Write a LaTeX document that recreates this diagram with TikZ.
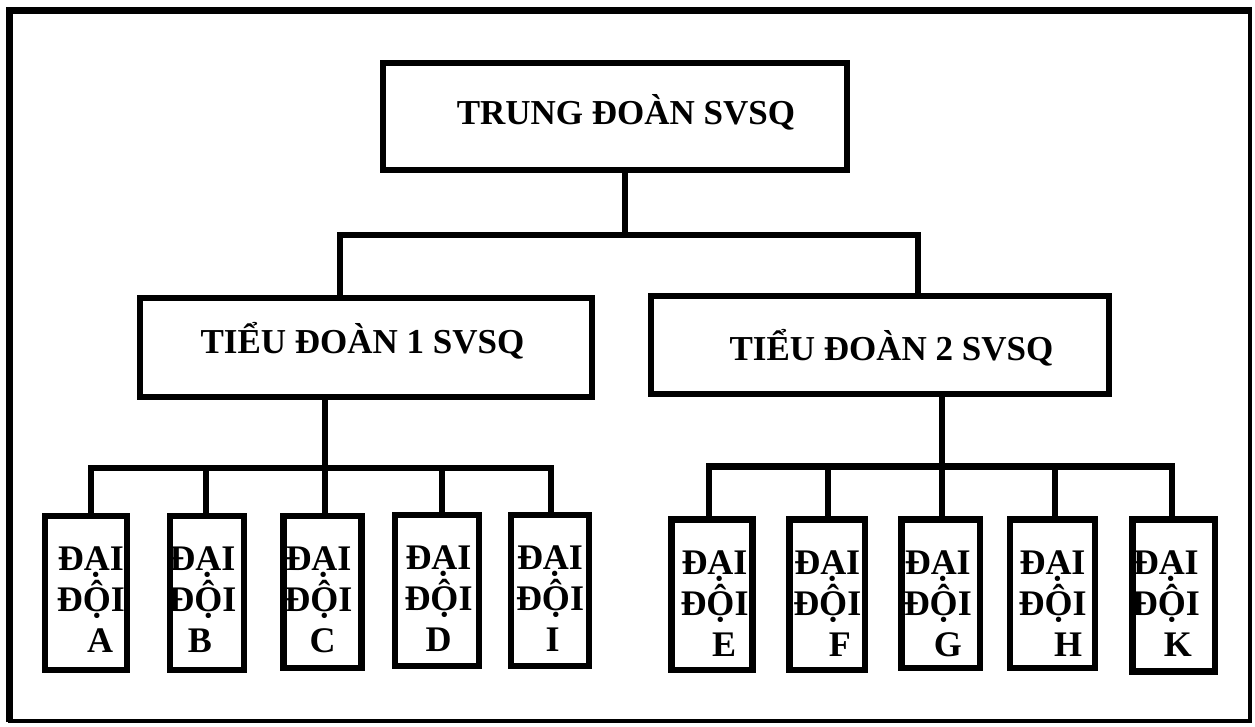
\documentclass[tikz,border=0pt]{standalone}
\usepackage{fontspec}
\setmainfont{Liberation Serif}
\newcommand\ddlabel[2]{ĐẠI\\ĐỘI\\\makebox[0pt]{\hspace*{#1}#2}}
\tikzset{
  box/.style={draw, line width=6.5pt, inner sep=0pt, outer sep=0pt},
  wire/.style={line width=6.5pt, line join=miter},
  title/.style={font=\bfseries\fontsize{35}{40}\selectfont, inner sep=0pt, anchor=base},
  ddtext/.style={font=\bfseries\fontsize{36}{41}\selectfont, inner sep=0pt, align=center, anchor=north},
}
\begin{document}
\begin{tikzpicture}[x=1pt,y=-1pt]
\useasboundingbox (0,0) rectangle (1255,726);

% outer frame: heavy left/top edges, light right/bottom edges
\draw[line width=4pt] (9.5,10) rectangle (1250,720.5);
\draw[line width=7pt] (9.5,722) -- (9.5,10) -- (1252,10);

% regiment
\node[box, minimum width=464pt, minimum height=107pt] (top) at (615,116.5) {};
\node[title] (ttop) at (626,124) {TRUNG ĐOÀN SVSQ};

% battalions
\node[box, minimum width=452pt, minimum height=99pt] (td1) at (366,347.5) {};
\node[title] (ttd1) at (362.5,353) {TIỂU ĐOÀN 1 SVSQ};
\node[box, minimum width=458pt, minimum height=98pt] (td2) at (880,345) {};
\node[title] (ttd2) at (891.5,360) {TIỂU ĐOÀN 2 SVSQ};

% companies of battalion 1
\node[box, minimum width=82pt,  minimum height=154pt]   (a) at (86,593) {};
\node[box, minimum width=74pt,  minimum height=154pt]   (b) at (207,593) {};
\node[box, minimum width=78pt,  minimum height=152pt]   (c) at (322.5,592) {};
\node[box, minimum width=84pt,  minimum height=151pt]   (d) at (437,590.5) {};
\node[box, minimum width=78pt,  minimum height=151pt]   (i) at (550,590.5) {};
% companies of battalion 2
\node[box, minimum width=81pt,  minimum height=150.5pt] (e) at (712,594.75) {};
\node[box, minimum width=75.5pt,minimum height=150.5pt] (f) at (827.25,594.75) {};
\node[box, minimum width=78.5pt,minimum height=148.5pt] (g) at (940.75,593.75) {};
\node[box, minimum width=85pt,  minimum height=148.5pt] (h) at (1052.5,593.75) {};
\node[box, minimum width=82.5pt,minimum height=152pt]   (k) at (1173.75,595.5) {};

\node[ddtext] (ta) at ([xshift=5pt,yshift=-31pt]a.north)   {\ddlabel{18pt}{A}};
\node[ddtext] (tb) at ([xshift=-4.5pt,yshift=-31pt]b.north) {\ddlabel{-5pt}{B}};
\node[ddtext] (tc) at ([xshift=-4pt,yshift=-31pt]c.north)  {\ddlabel{8pt}{C}};
\node[ddtext] (td) at ([xshift=1.5pt,yshift=-31pt]d.north) {\ddlabel{0pt}{D}};
\node[ddtext] (ti) at ([xshift=0pt,yshift=-31pt]i.north)   {\ddlabel{5pt}{I}};
\node[ddtext] (te) at ([xshift=2.5pt,yshift=-31pt]e.north) {\ddlabel{19pt}{E}};
\node[ddtext] (tf) at ([xshift=0pt,yshift=-31pt]f.north)   {\ddlabel{25pt}{F}};
\node[ddtext] (tg) at ([xshift=-3pt,yshift=-31pt]g.north)  {\ddlabel{20pt}{G}};
\node[ddtext] (th) at ([xshift=0pt,yshift=-31pt]h.north)   {\ddlabel{31pt}{H}};
\node[ddtext] (tk) at ([xshift=-8pt,yshift=-31pt]k.north)  {\ddlabel{24pt}{K}};

% regiment -> battalions
\coordinate (j0) at (625,235);
\coordinate (jL) at (340,235);
\coordinate (jR) at (918,235);
\draw[wire] (top.south -| j0) -- (j0);
\draw[wire] (td1.north -| jL) -- (jL) -- (jR) -- (td2.north -| jR);

% battalion 1 -> companies
\coordinate (l1) at (91,468);
\coordinate (l2) at (206,468);
\coordinate (l3) at (325,468);
\coordinate (l4) at (442,468);
\coordinate (l5) at (551,468);
\draw[wire] (a.north -| l1) -- (l1) -- (l5) -- (i.north -| l5);
\draw[wire] (l2) -- (b.north -| l2);
\draw[wire] (td1.south -| l3) -- (c.north -| l3);
\draw[wire] (l4) -- (d.north -| l4);

% battalion 2 -> companies
\coordinate (r1) at (709,466.5);
\coordinate (r2) at (828,466.5);
\coordinate (r3) at (942,466.5);
\coordinate (r4) at (1055,466.5);
\coordinate (r5) at (1172,466.5);
\draw[wire] (e.north -| r1) -- (r1) -- (r5) -- (k.north -| r5);
\draw[wire] (r2) -- (f.north -| r2);
\draw[wire] (td2.south -| r3) -- (g.north -| r3);
\draw[wire] (r4) -- (h.north -| r4);
\end{tikzpicture}
\end{document}
